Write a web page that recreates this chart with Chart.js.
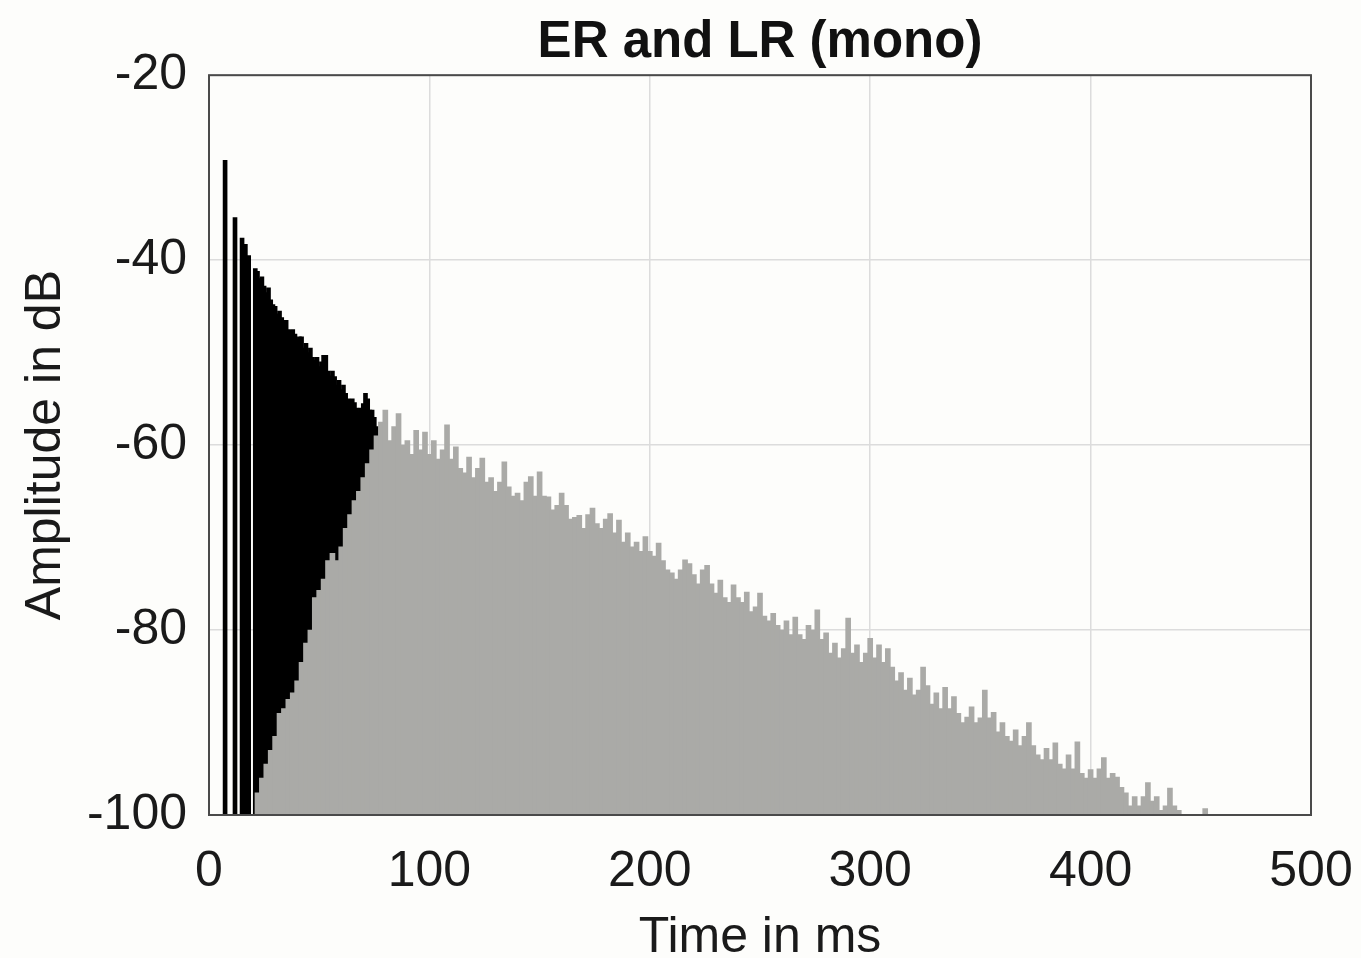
<!DOCTYPE html>
<html>
<head>
<meta charset="utf-8">
<title>ER and LR (mono)</title>
<script src="https://cdn.jsdelivr.net/npm/chart.js@4.4.1/dist/chart.umd.min.js"></script>
<style>
    html, body { margin: 0; padding: 0; background: #fdfdfb; }
    #wrap { width: 1361px; height: 958px; position: relative; }
</style>
</head>
<body>
<div id="wrap"><canvas id="ir_chart"></canvas></div>
<script>
// Early reflections (black stems): time in ms, level in dB
const erTimes = [7.3, 11.8, 15, 16.5, 18,
    21, 22, 23, 24, 25, 26, 27, 28, 29, 30,
    31, 32, 33, 34, 35, 36, 37, 38, 39, 40,
    41, 42, 43, 44, 45, 46, 47, 48, 49, 50,
    51, 52, 53, 54, 55, 56, 57, 58, 59, 60,
    61, 62, 63, 64, 65, 66, 67, 68, 69, 70,
    71, 72, 73, 74, 75, 76]
const erLevels = [-29.2, -35.4, -37.6, -38.3, -39.5,
    -40.9, -41.2, -42, -41.8, -42.8, -43.5, -43, -44.3, -44.8, -45,
    -45.8, -45.5, -46.2, -46.8, -46.5, -47.5, -47.6, -47.5, -48, -48.5,
    -48.3, -48.3, -49.5, -49, -50, -49.5, -50.5, -50.8, -50.5, -51.5,
    -51, -50.3, -50.3, -52, -52.5, -52, -52.6, -53.5, -53, -54,
    -53.5, -54.4, -55, -55.4, -55, -55.4, -56, -56.5, -56, -55.5,
    -54.4, -55, -56.2, -56.2, -57, -58]

// Late reverberation (gray stems): time in ms, level in dB
const lrTimes = [22, 24, 26, 28, 30, 32, 34, 36, 38, 40,
    42, 44, 46, 48, 50, 52, 54, 56, 58, 60,
    62, 64, 66, 68, 70, 72, 74, 76, 78, 80,
    82, 84, 86, 88, 90, 92, 94, 96, 98, 100,
    102, 104, 106, 108, 110, 112, 114, 116, 118, 120,
    122, 124, 126, 128, 130, 132, 134, 136, 138, 140,
    142, 144, 146, 148, 150, 152, 154, 156, 158, 160,
    162, 164, 166, 168, 170, 172, 174, 176, 178, 180,
    182, 184, 186, 188, 190, 192, 194, 196, 198, 200,
    202, 204, 206, 208, 210, 212, 214, 216, 218, 220,
    222, 224, 226, 228, 230, 232, 234, 236, 238, 240,
    242, 244, 246, 248, 250, 252, 254, 256, 258, 260,
    262, 264, 266, 268, 270, 272, 274, 276, 278, 280,
    282, 284, 286, 288, 290, 292, 294, 296, 298, 300,
    302, 304, 306, 308, 310, 312, 314, 316, 318, 320,
    322, 324, 326, 328, 330, 332, 334, 336, 338, 340,
    342, 344, 346, 348, 350, 352, 354, 356, 358, 360,
    362, 364, 366, 368, 370, 372, 374, 376, 378, 380,
    382, 384, 386, 388, 390, 392, 394, 396, 398, 400,
    402, 404, 406, 408, 410, 412, 414, 416, 418, 420,
    422, 424, 426, 428, 430, 432, 434, 436, 438, 440,
    442, 444, 446, 448, 450, 452]
const lrLevels = [-97.6, -96, -94.5, -93, -91.5, -89, -88.5, -87.5, -86.8, -85.5,
    -83.5, -81.4, -80, -76.5, -75.7, -74.5, -72.5, -71.7, -72.5, -71,
    -69, -67.5, -66, -65, -63.5, -62, -60.5, -59, -57.5, -56.2,
    -59.5, -58, -56.6, -60, -59.5, -61, -58.4, -60.5, -58.6, -61,
    -59.5, -61.5, -60.5, -57.8, -61.5, -60.2, -62.5, -63, -61.3, -63.5,
    -62.5, -61.4, -64, -63.5, -65, -64, -61.8, -64.5, -65.5, -65.2,
    -66, -64, -63.4, -65.5, -62.9, -65.5, -65.6, -67, -66.5, -65.2,
    -66.5, -68, -67.8, -67.6, -69, -67.5, -66.8, -68.5, -69, -68,
    -67.4, -69.5, -68.1, -70.5, -69.5, -71, -70.5, -71.5, -69.9, -71.5,
    -72, -70.6, -72.5, -73.5, -73.8, -74.5, -73.5, -72.4, -72.8, -74,
    -75, -73.5, -73, -75, -76, -74.6, -76.5, -77, -75.1, -76.5,
    -77, -75.9, -78, -77.5, -76, -78.5, -79, -78.2, -79.5, -80,
    -79, -80.5, -78.6, -80.5, -81, -79.5, -80, -77.8, -81, -80.3,
    -82.5, -81.4, -83, -82, -78.7, -82.5, -81.6, -83.5, -82.5, -80.9,
    -83, -81.6, -83.5, -82, -84, -85.5, -84.6, -86.5, -85.2, -87,
    -86.5, -84, -86, -88, -86.8, -88.5, -86.2, -88.5, -87.2, -89,
    -90, -89.4, -88.3, -90, -89.5, -86.5, -89.5, -88.9, -91, -90,
    -91.5, -92, -90.8, -92.5, -91.5, -90, -92.5, -93.5, -94, -92.8,
    -94, -92.2, -94.5, -95, -93.5, -95, -92.1, -95.5, -96, -95.1,
    -96, -95, -93.8, -96, -95.5, -95.9, -97, -97.6, -99, -98,
    -99, -98, -96.5, -98.5, -98, -99.5, -99, -97.1, -99, -99.5,
    -100, -100, -100, -100, -100, -99.3]

const floorDb = -100
const fontFamily = "'Liberation Sans', Arial, sans-serif"
const textColor = '#1a1a1a'

// Stems go from the floor up to the level
const toStems = (times, levels) => times.map((t, i) => ({ x: t, y: [floorDb, levels[i]] }))

// Box around the plot area, like the original figure
const framePlugin = {
    id: 'frame',
    afterDraw(chart) {
        const { ctx, chartArea } = chart
        ctx.save()
        ctx.strokeStyle = '#4a4a4a'
        ctx.lineWidth = 2
        ctx.strokeRect(chartArea.left, chartArea.top, chartArea.right - chartArea.left, chartArea.bottom - chartArea.top)
        ctx.restore()
    }
}

const ctx = document.getElementById('ir_chart').getContext('2d')
new Chart(ctx, {
    type: 'bar',
    data: {
        datasets: [
            {
                label: 'LR',
                data: toStems(lrTimes, lrLevels),
                backgroundColor: '#aaaaa7',
                borderWidth: 0,
                barThickness: 5,
                grouped: false,
                order: 1
            },
            {
                label: 'ER',
                data: toStems(erTimes, erLevels),
                backgroundColor: '#000000',
                borderWidth: 0,
                barThickness: 4,
                grouped: false,
                order: 2
            }
        ]
    },
    options: {
        responsive: true,
        maintainAspectRatio: false,
        animation: false,
        layout: {
            padding: { left: 0, right: 50, top: 0, bottom: 0 }
        },
        scales: {
            x: {
                type: 'linear',
                min: 0,
                max: 500,
                offset: false,
                grid: { offset: false, color: '#dcdcdc', lineWidth: 1.5, drawTicks: false },
                border: { display: false },
                ticks: {
                    stepSize: 100,
                    padding: 27,
                    maxRotation: 0,
                    color: textColor,
                    font: { family: fontFamily, size: 50 }
                },
                title: {
                    display: true,
                    text: 'Time in ms',
                    color: textColor,
                    font: { family: fontFamily, size: 50 },
                    padding: { top: 0, bottom: -10 }
                },
                afterFit: scale => {
                    scale.height = 143
                    // labels may hang over the plot edges, as in the original
                    scale.paddingLeft = 0
                    scale.paddingRight = 0
                }
            },
            y: {
                min: -100,
                max: -20,
                grid: { color: '#dcdcdc', lineWidth: 1.5, drawTicks: false },
                border: { display: false },
                ticks: {
                    stepSize: 20,
                    padding: 22,
                    color: textColor,
                    font: { family: fontFamily, size: 50 }
                },
                title: {
                    display: true,
                    text: 'Amplitude in dB',
                    color: textColor,
                    font: { family: fontFamily, size: 50 },
                    padding: { top: 16, bottom: 0 }
                },
                afterFit: scale => {
                    scale.width = 209
                    scale.paddingTop = 0
                    scale.paddingBottom = 0
                }
            }
        },
        plugins: {
            legend: { display: false },
            tooltip: { enabled: false },
            title: {
                display: true,
                text: 'ER and LR (mono)',
                fullSize: false,
                color: '#111111',
                font: { family: fontFamily, size: 51, weight: 'bold' },
                padding: { top: 12, bottom: 2 }
            }
        }
    },
    plugins: [framePlugin]
})
</script>
</body>
</html>
